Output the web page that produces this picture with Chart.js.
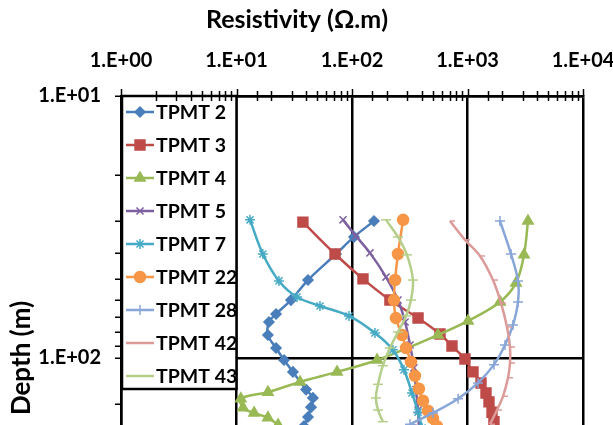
<!DOCTYPE html>
<html>
<head>
<meta charset="utf-8">
<script src="https://cdn.jsdelivr.net/npm/chart.js@4.4.0/dist/chart.umd.min.js"></script>
<style>
  html, body { margin: 0; padding: 0; background: #fff; overflow: hidden; }
  #wrap { position: relative; width: 613px; height: 640px; }
</style>
</head>
<body>
<div id="wrap"><canvas id="chartResistividade"></canvas></div>
<script>
// Sondagens: resistividade (ohm.m) x profundidade (m)
const nomes = ["TPMT 2", "TPMT 3", "TPMT 4", "TPMT 5", "TPMT 7", "TPMT 22", "TPMT 28", "TPMT 42", "TPMT 43"];

const res2 = [155, 104, 72.7, 41.6, 29.6, 22.0, 19.1, 18.7, 22.0, 25.8, 30.8, 40.0, 45.9, 44.2, 41.6, 38.4];
const prof2 = [30.0, 34.5, 40.1, 50.4, 60.1, 67.9, 72.9, 81.7, 91.6, 101.8, 113, 132, 142, 154, 168, 182];

const res3 = [37.6, 71.3, 124.5, 213, 373, 578, 734, 951, 1116, 1309, 1446, 1535, 1630, 1695];
const prof3 = [30.3, 40.1, 49.9, 60.1, 70.4, 81.0, 90.0, 100.9, 113, 124.5, 136, 147, 161, 175];

const res4 = [3340, 3085, 2630, 1912, 1010, 555, 165, 74.2, 35.5, 18.7, 10.9, 11.4, 14.2, 18.7, 22.9];
const prof4 = [30.0, 40.4, 51.7, 61.1, 72.2, 81.7, 101.8, 113, 123.5, 135, 143, 155, 162, 169, 180];

const res5 = [83.6, 108, 143, 197, 250, 288, 318, 344, 358, 373, 380];
const prof5 = [29.7, 34.2, 39.7, 49.1, 60.1, 72.9, 89.2, 109, 132, 158, 185];

const res7 = [13.1, 16.9, 23.3, 33.4, 52.8, 94.2, 158, 226, 282, 331, 373, 404];
const prof7 = [29.7, 40.1, 50.8, 58.5, 63.3, 69.1, 80.3, 93.1, 111, 136, 161, 185];

const res22 = [277, 250, 236, 231, 240, 271, 294, 324, 351, 380, 412, 455, 503, 544];
const prof22 = [29.7, 40.1, 50.4, 60.1, 70.4, 81.7, 91.6, 103.5, 117, 131, 145.6, 159, 170, 182];

const res28 = [1912, 2381, 2737, 2737, 2477, 2112, 1695, 1233, 828, 503, 318];
const prof28 = [30.0, 40.1, 50.8, 61.1, 74.8, 89.2, 106, 124.5, 143, 162, 179];

const res42 = [705, 951, 1283, 1662, 1950, 2198, 2333, 2333, 2243, 2029, 1800, 1566];
const prof42 = [30.0, 35.4, 40.8, 50.4, 61.7, 76.1, 90.8, 104.5, 119, 140, 158, 179];

const res43 = [197, 250, 299, 337, 324, 294, 250, 213, 185, 168, 161, 168, 185];
const prof43 = [29.7, 34.5, 40.4, 50.4, 60.1, 69.1, 79.6, 91.6, 107, 126, 142, 158, 175];

const xTickLabels = ["1.E+00", "1.E+01", "1.E+02", "1.E+03", "1.E+04"];
const yTickLabels = ["1.E+01", "1.E+02", "1.E+03"];
const tituloX = "Resistivity (Ω.m)";

const cores = ["#4a7ebb", "#be4b48", "#98b954", "#7d60a0", "#46aac5", "#f79646", "#88a6d8", "#dc9a98", "#b5cf8a"];
const marcadores = ["rectRot", "rect", "triangle", "crossRot", "star", "circle", "cross", "dash", "line"];
const raios = [5, 7, 6, 5, 5, 5.5, 5, 5, 5];

const resistividades = [res2, res3, res4, res5, res7, res22, res28, res42, res43];
const profundidades = [prof2, prof3, prof4, prof5, prof7, prof22, prof28, prof42, prof43];

function ehDecada(v) {
  const l = Math.log10(v);
  return Math.abs(l - Math.round(l)) < 1e-6;
}

const datasets = nomes.map((nome, i) => ({
  label: nome,
  data: resistividades[i].map((r, j) => ({ x: r, y: profundidades[i][j] })),
  showLine: true,
  borderColor: cores[i],
  backgroundColor: cores[i],
  borderWidth: 2.5,
  tension: 0.35,
  pointStyle: marcadores[i],
  pointRadius: raios[i],
  pointBorderColor: cores[i],
  pointBackgroundColor: cores[i],
  pointBorderWidth: 1.5,
  order: nomes.length - i,
}));

// Legenda em caixa dentro da area do grafico
const caixaLegenda = {
  id: "caixaLegenda",
  afterDraw(chart) {
    const ctx = chart.ctx;
    const left = chart.chartArea.left + 1;
    const top = chart.chartArea.top;
    const right = chart.scales.x.getPixelForValue(10);
    const bottom = 389;
    ctx.save();
    ctx.fillStyle = "#fff";
    ctx.fillRect(left, top, right - left, bottom - top);
    ctx.strokeStyle = "#000";
    ctx.lineWidth = 2.5;
    ctx.strokeRect(left, top, right - left, bottom - top);

    chart.data.datasets.forEach((ds, i) => {
      const y = 112 + i * 33;
      ctx.strokeStyle = ds.borderColor;
      ctx.lineWidth = 2.5;
      ctx.beginPath();
      ctx.moveTo(left + 4, y);
      ctx.lineTo(left + 32, y);
      ctx.stroke();
      ctx.fillStyle = ds.pointBackgroundColor;
      ctx.strokeStyle = ds.pointBorderColor;
      ctx.lineWidth = ds.pointBorderWidth;
      if (Chart.helpers && Chart.helpers.drawPoint) {
        Chart.helpers.drawPoint(ctx, {
          pointStyle: ds.pointStyle,
          radius: ds.pointRadius,
          rotation: 0,
          borderWidth: ds.pointBorderWidth,
        }, left + 18, y);
      }
      ctx.fillStyle = "#000";
      ctx.font = "bold 19.5px Lato";
      ctx.textBaseline = "middle";
      ctx.textAlign = "left";
      ctx.fillText(ds.label, left + 34, y + 1);
    });
    ctx.restore();
  },
};

// Eixo superior: marcas menores cruzando a linha e titulo
const eixoTopo = {
  id: "eixoTopo",
  afterDraw(chart) {
    const sx = chart.scales.x;
    const ctx = chart.ctx;
    const top = chart.chartArea.top;
    ctx.save();
    ctx.strokeStyle = "#000";
    ctx.lineWidth = 1.5;
    sx.ticks.forEach((t) => {
      const px = Math.round(sx.getPixelForValue(t.value)) + 0.5;
      ctx.beginPath();
      if (ehDecada(t.value)) {
        ctx.moveTo(px, top - 7);
        ctx.lineTo(px, top);
      } else {
        ctx.moveTo(px, top - 5);
        ctx.lineTo(px, top + 5);
      }
      ctx.stroke();
    });
    ctx.fillStyle = "#000";
    ctx.font = "bold 25px Lato";
    ctx.textAlign = "center";
    ctx.textBaseline = "middle";
    ctx.fillText(tituloX, 297, 20);
    ctx.restore();
  },
};

const grafico = document.getElementById("chartResistividade");

new Chart(grafico, {
  type: "scatter",
  data: { datasets: datasets },
  plugins: [caixaLegenda, eixoTopo],
  options: {
    responsive: true,
    maintainAspectRatio: false,
    animation: false,
    layout: { padding: { left: 0, top: 0, right: 30, bottom: 20 } },
    plugins: {
      legend: { display: false },
      tooltip: { enabled: false },
    },
    scales: {
      x: {
        type: "logarithmic",
        position: "top",
        min: 1,
        max: 10000,
        afterFit(scale) {
          scale.height = 96;
          scale.paddingLeft = 0;
          scale.paddingRight = 0;
        },
        border: { color: "#000", width: 2.5 },
        grid: {
          drawTicks: false,
          color: (c) => (c.tick && ehDecada(c.tick.value) ? "#000" : "rgba(0,0,0,0)"),
          lineWidth: 2.5,
        },
        ticks: {
          autoSkip: false,
          maxRotation: 0,
          padding: 23,
          color: "#000",
          font: { family: "Lato", size: 20, weight: "bold" },
          callback: (v) => (ehDecada(v) ? xTickLabels[Math.round(Math.log10(v))] : ""),
        },
      },
      y: {
        type: "logarithmic",
        reverse: true,
        min: 10,
        max: 1000,
        afterFit(scale) {
          scale.width = 121;
          scale.paddingTop = 0;
          scale.paddingBottom = 0;
        },
        border: { color: "#000", width: 2.5 },
        grid: {
          drawTicks: true,
          tickLength: 6,
          tickColor: "#000",
          tickWidth: 1.5,
          color: (c) => (c.tick && ehDecada(c.tick.value) ? "#000" : "rgba(0,0,0,0)"),
          lineWidth: 2.5,
        },
        ticks: {
          autoSkip: false,
          padding: 14,
          color: "#000",
          font: { family: "Lato", size: 20, weight: "bold" },
          callback: (v) => (ehDecada(v) ? yTickLabels[Math.round(Math.log10(v)) - 1] : ""),
        },
        title: {
          display: true,
          text: "Depth (m)",
          color: "#000",
          font: { family: "Lato", size: 26, weight: "bold" },
          padding: { top: 6, bottom: 0 },
        },
      },
    },
  },
});
</script>
</body>
</html>
